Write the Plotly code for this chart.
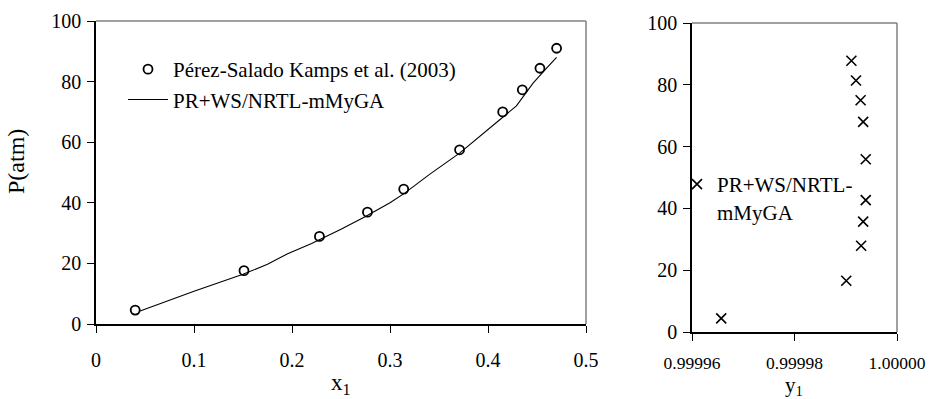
import plotly.graph_objects as go

# ---- data: left panel (P vs x1) ----
exp_x1 = [0.040, 0.151, 0.228, 0.277, 0.314, 0.371, 0.415, 0.435, 0.453, 0.470]
exp_P = [4.6, 17.6, 28.9, 36.9, 44.5, 57.5, 70.0, 77.3, 84.4, 91.0]

calc_x1 = [0.045, 0.070, 0.100, 0.125, 0.150, 0.175, 0.195, 0.220, 0.250, 0.275,
           0.300, 0.315, 0.340, 0.371, 0.400, 0.412, 0.429, 0.446, 0.460, 0.470]
calc_P = [4.3, 7.3, 10.8, 13.6, 16.4, 19.7, 23.1, 26.6, 31.3, 35.5,
          40.0, 43.2, 49.3, 56.4, 64.0, 67.4, 72.0, 79.5, 84.5, 88.0]

# ---- data: right panel (P vs y1) ----
calc_y1 = [0.9999657, 0.9999901, 0.9999930, 0.9999934, 0.9999939,
           0.9999939, 0.9999934, 0.9999929, 0.9999920, 0.9999911]
calc_Py = [4.4, 16.6, 27.9, 35.7, 42.7, 55.9, 68.0, 75.0, 81.4, 87.8]

x1_ticks = [0, 0.1, 0.2, 0.3, 0.4, 0.5]
y1_tickvals = [0.99996, 0.99998, 1.00000]
y1_ticktext = ["0.99996", "0.99998", "1.00000"]

legend_exp = "Pérez-Salado Kamps et al. (2003)"
legend_calc = "PR+WS/NRTL-mMyGA"
legend_calc_y = "PR+WS/NRTL-<br>mMyGA"

FONT = "Liberation Serif, Times New Roman, serif"
W, H = 934, 399

# pixel layout (page coordinates)
L_x0, L_x1, L_y0, L_y1 = 96, 586, 21, 324
R_x0, R_x1, R_y0, R_y1 = 692, 897, 23, 332

def px(x):
    return x / W

def py(y):
    return 1 - y / H

fig = go.Figure()

fig.add_trace(go.Scatter(
    x=exp_x1, y=exp_P, mode="markers", name=legend_exp,
    marker=dict(symbol="circle-open", size=9, color="black", line=dict(width=1.8, color="black")),
    xaxis="x", yaxis="y"))
fig.add_trace(go.Scatter(
    x=calc_x1, y=calc_P, mode="lines", name=legend_calc,
    line=dict(color="black", width=1.1),
    xaxis="x", yaxis="y"))
fig.add_trace(go.Scatter(
    x=calc_y1, y=calc_Py, mode="markers", name=legend_calc_y,
    marker=dict(symbol="x-thin-open", size=10, color="black", line=dict(width=1.6, color="black")),
    xaxis="x2", yaxis="y2", legend="legend2"))

axis_common = dict(showgrid=False, zeroline=False, showline=True, linecolor="black", linewidth=1.5,
                   ticks="outside", ticklen=7, tickcolor="black", tickwidth=1.2, automargin=False)

fig.update_layout(
    width=W, height=H, margin=dict(l=0, r=0, t=0, b=0, autoexpand=False),
    paper_bgcolor="white", plot_bgcolor="white",
    font=dict(family=FONT, size=20, color="black"),
    xaxis=dict(domain=[px(L_x0), px(L_x1)], range=[0, 0.5], tickvals=x1_ticks,
               anchor="y", ticklabelstandoff=10, tickfont=dict(family=FONT, size=20, color="black"),
               **axis_common),
    yaxis=dict(domain=[py(L_y1), py(L_y0)], range=[0, 100], dtick=20,
               anchor="x", ticklabelstandoff=2, tickfont=dict(family=FONT, size=20, color="black"),
               **axis_common),
    xaxis2=dict(domain=[px(R_x0), px(R_x1)], range=[0.99996, 1.00000],
                tickvals=y1_tickvals, ticktext=y1_ticktext,
                anchor="y2", ticklabelstandoff=7, tickfont=dict(family=FONT, size=17.5, color="black"),
                **axis_common),
    yaxis2=dict(domain=[py(R_y1), py(R_y0)], range=[0, 100], dtick=20,
                anchor="x2", ticklabelstandoff=2, tickfont=dict(family=FONT, size=20, color="black"),
                **axis_common),
    legend=dict(x=px(123), y=py(49), xanchor="left", yanchor="top",
                bgcolor="rgba(0,0,0,0)", font=dict(family=FONT, size=21, color="black"),
                itemwidth=40, tracegroupgap=0),
    legend2=dict(x=px(677), y=py(164), xanchor="left", yanchor="top",
                 bgcolor="rgba(0,0,0,0)", font=dict(family=FONT, size=21, color="black"),
                 valign="top", itemwidth=30),
    showlegend=True,
)

# gray top/right frame lines
for xr, yr in (("x domain", "y domain"), ("x2 domain", "y2 domain")):
    fig.add_shape(type="line", xref=xr, yref=yr, x0=0, x1=1, y0=1, y1=1,
                  line=dict(color="#808080", width=1.5))
    fig.add_shape(type="line", xref=xr, yref=yr, x0=1, x1=1, y0=0, y1=1,
                  line=dict(color="#808080", width=1.5))

# axis titles
fig.add_annotation(text="P(atm)", x=px(16), y=py(162), xref="paper", yref="paper",
                   xanchor="center", yanchor="middle", borderpad=0,
                   textangle=-90, showarrow=False, font=dict(family=FONT, size=24, color="black"))
fig.add_annotation(text="x<sub>1</sub>", x=px(341), y=py(384), xref="paper", yref="paper",
                   xanchor="center", yanchor="middle", borderpad=0,
                   showarrow=False, font=dict(family=FONT, size=23, color="black"))
fig.add_annotation(text="y<sub>1</sub>", x=px(794), y=py(386), xref="paper", yref="paper",
                   xanchor="center", yanchor="middle", borderpad=0,
                   showarrow=False, font=dict(family=FONT, size=21, color="black"))

fig.write_html("out.html", config={"displayModeBar": False},
               post_script="document.body.style.margin='0';document.body.style.overflow='hidden';")
